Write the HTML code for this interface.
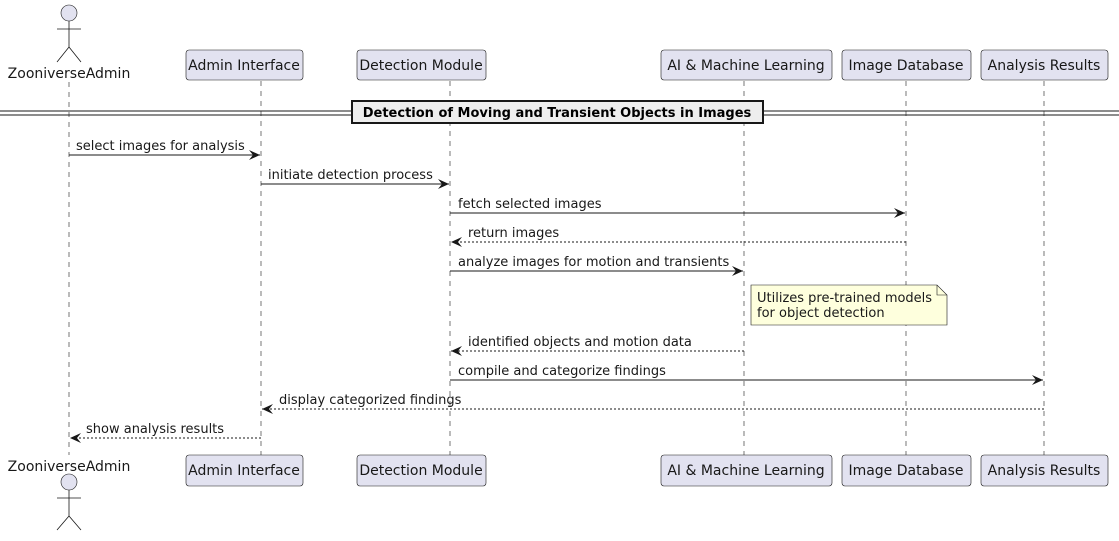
<!DOCTYPE html>
<html><head><style>body{margin:0;background:#fff}</style></head><body>
<svg width="1119" height="536" xmlns="http://www.w3.org/2000/svg" font-family="DejaVu Sans, Liberation Sans, sans-serif" font-size="13">
<defs><marker id="a" markerWidth="12" markerHeight="10" refX="11" refY="5" orient="auto" markerUnits="userSpaceOnUse"><path d="M0,0 L11,5 L0,10 L4,5 Z" fill="#181818"/></marker></defs>
<g stroke="#555" stroke-dasharray="5,5" stroke-width="0.8">
<line x1="69" y1="82" x2="69" y2="455"/><line x1="261" y1="81" x2="261" y2="455"/><line x1="450" y1="81" x2="450" y2="455"/><line x1="744" y1="81" x2="744" y2="455"/><line x1="906" y1="81" x2="906" y2="455"/><line x1="1044" y1="81" x2="1044" y2="455"/></g>
<g fill="#E2E2F0" stroke="#181818" stroke-width="0.6">
<rect x="186" y="50" width="117" height="30" rx="3"/><rect x="357" y="50" width="129" height="30" rx="3"/><rect x="661" y="50" width="171" height="30" rx="3"/><rect x="842" y="50" width="129" height="30" rx="3"/><rect x="981" y="50" width="127" height="30" rx="3"/>
<rect x="186" y="455" width="117" height="31" rx="3"/><rect x="357" y="455" width="129" height="31" rx="3"/><rect x="661" y="455" width="171" height="31" rx="3"/><rect x="842" y="455" width="129" height="31" rx="3"/><rect x="981" y="455" width="127" height="31" rx="3"/>
<circle cx="69" cy="13" r="8"/><circle cx="69" cy="482" r="8"/></g>
<g stroke="#181818" stroke-width="0.8" fill="none">
<path d="M69,21V47M57,29H81M57,62L69,47L81,62"/><path d="M69,490V516M57,498H81M57,530L69,516L81,530"/></g>
<g fill="#181818" text-anchor="middle" font-size="14">
<text x="69" y="78">ZooniverseAdmin</text><text x="244" y="70">Admin Interface</text><text x="421" y="70">Detection Module</text><text x="746" y="70">AI &amp; Machine Learning</text><text x="906" y="70">Image Database</text><text x="1044" y="70">Analysis Results</text>
<text x="69" y="471">ZooniverseAdmin</text><text x="244" y="475">Admin Interface</text><text x="421" y="475">Detection Module</text><text x="746" y="475">AI &amp; Machine Learning</text><text x="906" y="475">Image Database</text><text x="1044" y="475">Analysis Results</text></g>
<g stroke="#181818" stroke-width="1"><line x1="0" y1="111" x2="1119" y2="111"/><line x1="0" y1="115" x2="1119" y2="115"/></g>
<rect x="352" y="101" width="411" height="22" fill="#EEE" stroke="#181818" stroke-width="2"/>
<text x="557" y="117" text-anchor="middle" font-weight="bold" fill="#000">Detection of Moving and Transient Objects in Images</text>
<g stroke="#181818" stroke-width="1">
<line x1="69" y1="155" x2="260" y2="155" marker-end="url(#a)"/>
<line x1="261" y1="184" x2="449" y2="184" marker-end="url(#a)"/>
<line x1="450" y1="213" x2="905" y2="213" marker-end="url(#a)"/>
<line x1="906" y1="242" x2="451" y2="242" stroke-dasharray="2,2" marker-end="url(#a)"/>
<line x1="450" y1="271" x2="743" y2="271" marker-end="url(#a)"/>
<line x1="744" y1="351" x2="451" y2="351" stroke-dasharray="2,2" marker-end="url(#a)"/>
<line x1="450" y1="380" x2="1043" y2="380" marker-end="url(#a)"/>
<line x1="1044" y1="409" x2="262" y2="409" stroke-dasharray="2,2" marker-end="url(#a)"/>
<line x1="261" y1="438" x2="70" y2="438" stroke-dasharray="2,2" marker-end="url(#a)"/></g>
<g fill="#181818">
<text x="76" y="150">select images for analysis</text><text x="268" y="179">initiate detection process</text><text x="458" y="208">fetch selected images</text><text x="468" y="237">return images</text><text x="458" y="266">analyze images for motion and transients</text><text x="468" y="346">identified objects and motion data</text><text x="458" y="375">compile and categorize findings</text><text x="279" y="404">display categorized findings</text><text x="86" y="433">show analysis results</text></g>
<path d="M751,285H937L947,295V325H751Z" fill="#FEFFDD" stroke="#181818" stroke-width="0.6"/>
<path d="M937,285V295H947" fill="none" stroke="#181818" stroke-width="0.6"/>
<text x="757" y="302" fill="#181818">Utilizes pre-trained models</text><text x="757" y="317" fill="#181818">for object detection</text>
</svg></body></html>
